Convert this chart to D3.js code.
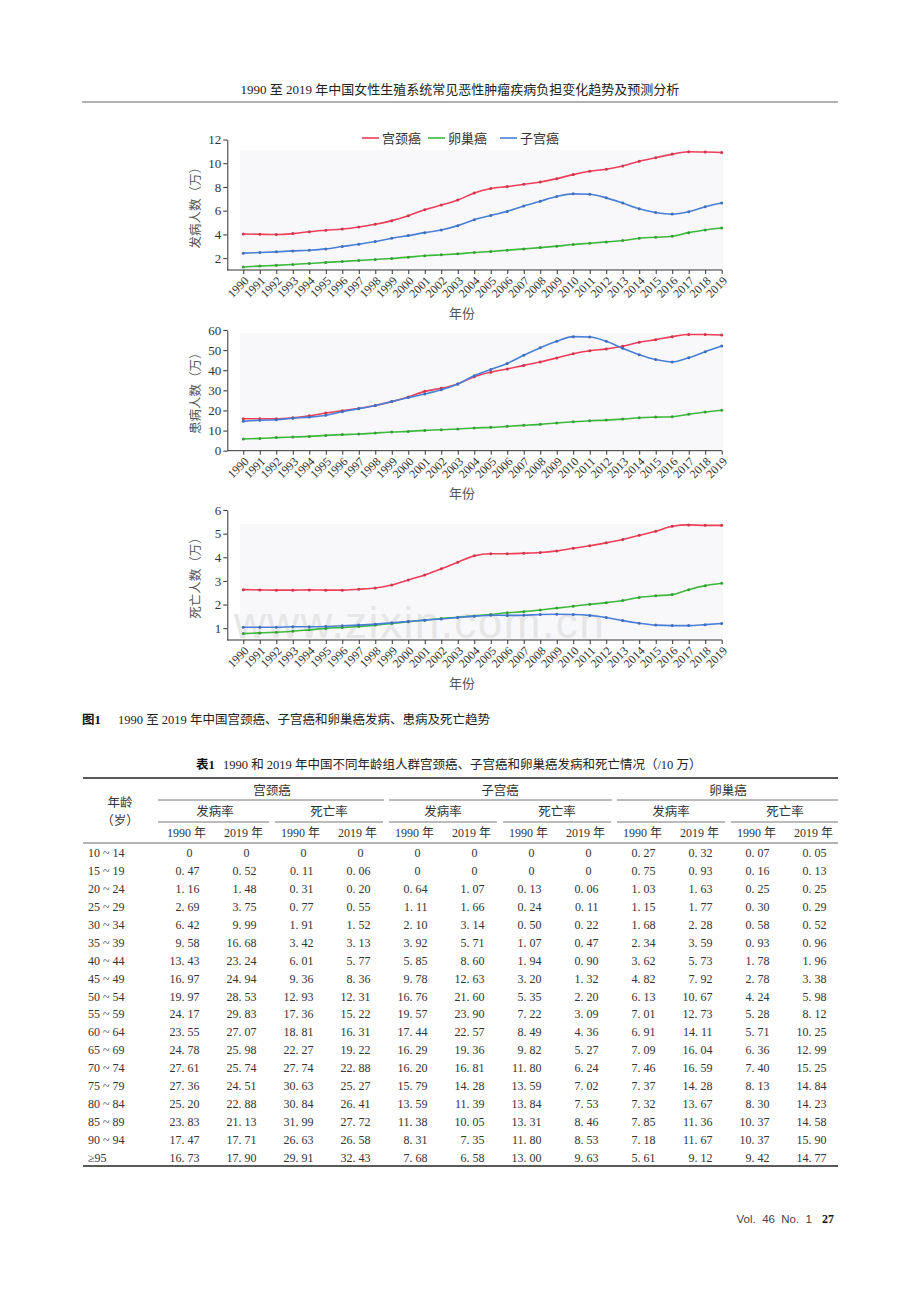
<!DOCTYPE html>
<html>
<head>
<meta charset="utf-8">
<script src="https://cdn.jsdelivr.net/npm/d3@7"></script>
<style>
body{margin:0;background:#fff;}
svg{display:block;}
text{font-family:"Liberation Serif","Noto Sans CJK SC",serif;fill:#333;}
</style>
</head>
<body>
<div id="page"></div>
<script>
// x categories (years)
var years = [1990,1991,1992,1993,1994,1995,1996,1997,1998,1999,2000,2001,2002,2003,2004,
             2005,2006,2007,2008,2009,2010,2011,2012,2013,2014,2015,2016,2017,2018,2019];
var seriesNames = ["宫颈癌","卵巢癌","子宫癌"];
var seriesColors = ["#ee3e58","#3db83d","#4a7fd8"];

// 发病人数 (万)
var incCervical = [4.04,4.01,3.99,4.07,4.23,4.35,4.46,4.63,4.85,5.16,5.58,6.08,6.47,6.89,7.50,7.87,8.03,8.23,8.42,8.70,9.04,9.32,9.49,9.77,10.16,10.46,10.77,10.97,10.94,10.91];
var incOvarian  = [1.25,1.33,1.39,1.47,1.55,1.64,1.72,1.80,1.89,1.97,2.08,2.20,2.28,2.36,2.47,2.56,2.67,2.78,2.89,3.01,3.15,3.26,3.37,3.48,3.68,3.76,3.84,4.15,4.37,4.54];
var incUterine  = [2.42,2.47,2.53,2.61,2.67,2.78,2.98,3.17,3.40,3.68,3.90,4.15,4.37,4.74,5.24,5.60,5.94,6.39,6.80,7.20,7.42,7.39,7.08,6.64,6.16,5.85,5.71,5.91,6.33,6.64];
// 患病人数 (万)
var prevCervical = [15.9,15.9,15.9,16.4,17.4,18.7,19.9,21.0,22.5,24.4,26.7,29.5,31.0,33.2,36.8,39.0,40.6,42.4,44.1,46.1,48.2,49.7,50.6,51.9,53.9,55.2,56.7,57.8,57.8,57.5];
var prevOvarian  = [5.8,6.1,6.5,6.8,7.1,7.6,8.0,8.3,8.8,9.3,9.6,10.1,10.4,10.8,11.3,11.6,12.1,12.6,13.1,13.8,14.4,14.9,15.2,15.7,16.4,16.7,16.9,18.1,19.2,20.1];
var prevUterine  = [14.6,15.1,15.4,16.1,16.7,17.6,19.4,20.9,22.5,24.4,26.4,28.2,30.3,33.2,37.3,40.4,43.4,47.4,51.2,54.4,56.7,56.5,54.4,50.9,47.7,45.3,44.1,46.2,49.2,52.0];
// 死亡人数 (万)
var deathCervical = [2.63,2.62,2.61,2.61,2.62,2.61,2.61,2.65,2.70,2.83,3.04,3.25,3.51,3.79,4.06,4.15,4.15,4.17,4.20,4.27,4.38,4.49,4.61,4.75,4.93,5.10,5.31,5.37,5.35,5.35];
var deathOvarian  = [0.77,0.80,0.83,0.87,0.93,0.99,1.03,1.07,1.13,1.20,1.27,1.34,1.41,1.46,1.52,1.58,1.65,1.70,1.77,1.85,1.93,2.01,2.08,2.17,2.30,2.37,2.42,2.63,2.80,2.90];
var deathUterine  = [1.04,1.04,1.04,1.06,1.06,1.07,1.10,1.13,1.17,1.23,1.28,1.34,1.39,1.45,1.51,1.55,1.54,1.55,1.58,1.59,1.58,1.54,1.45,1.32,1.21,1.13,1.11,1.11,1.15,1.20];

// y tick labels of the three panels
var incTicks = [2,4,6,8,10,12];
var prevTicks = [0,10,20,30,40,50,60];
var deathTicks = [1,2,3,4,5,6];

// table 1
var groups = ["宫颈癌","子宫癌","卵巢癌"];
var measures = ["发病率","死亡率"];
var yearLabels = ["1990 年","2019 年"];
var ageGroups = ["10 ~ 14","15 ~ 19","20 ~ 24","25 ~ 29","30 ~ 34","35 ~ 39","40 ~ 44","45 ~ 49","50 ~ 54",
                 "55 ~ 59","60 ~ 64","65 ~ 69","70 ~ 74","75 ~ 79","80 ~ 84","85 ~ 89","90 ~ 94","≥95"];
// [1990, 2019] per age group
var cervIncidence = [[0,0],[0.47,0.52],[1.16,1.48],[2.69,3.75],[6.42,9.99],[9.58,16.68],[13.43,23.24],[16.97,24.94],[19.97,28.53],
                     [24.17,29.83],[23.55,27.07],[24.78,25.98],[27.61,25.74],[27.36,24.51],[25.20,22.88],[23.83,21.13],[17.47,17.71],[16.73,17.90]];
var cervDeath = [[0,0],[0.11,0.06],[0.31,0.20],[0.77,0.55],[1.91,1.52],[3.42,3.13],[6.01,5.77],[9.36,8.36],[12.93,12.31],
                 [17.36,15.22],[18.81,16.31],[22.27,19.22],[27.74,22.88],[30.63,25.27],[30.84,26.41],[31.99,27.72],[26.63,26.58],[29.91,32.43]];
var uterIncidence = [[0,0],[0,0],[0.64,1.07],[1.11,1.66],[2.10,3.14],[3.92,5.71],[5.85,8.60],[9.78,12.63],[16.76,21.60],
                     [19.57,23.90],[17.44,22.57],[16.29,19.36],[16.20,16.81],[15.79,14.28],[13.59,11.39],[11.38,10.05],[8.31,7.35],[7.68,6.58]];
var uterDeath = [[0,0],[0,0],[0.13,0.06],[0.24,0.11],[0.50,0.22],[1.07,0.47],[1.94,0.90],[3.20,1.32],[5.35,2.20],
                 [7.22,3.09],[8.49,4.36],[9.82,5.27],[11.80,6.24],[13.59,7.02],[13.84,7.53],[13.31,8.46],[11.80,8.53],[13.00,9.63]];
var ovarIncidence = [[0.27,0.32],[0.75,0.93],[1.03,1.63],[1.15,1.77],[1.68,2.28],[2.34,3.59],[3.62,5.73],[4.82,7.92],[6.13,10.67],
                     [7.01,12.73],[6.91,14.11],[7.09,16.04],[7.46,16.59],[7.37,14.28],[7.32,13.67],[7.85,11.36],[7.18,11.67],[5.61,9.12]];
var ovarDeath = [[0.07,0.05],[0.16,0.13],[0.25,0.25],[0.30,0.29],[0.58,0.52],[0.93,0.96],[1.78,1.96],[2.78,3.38],[4.24,5.98],
                 [5.28,8.12],[5.71,10.25],[6.36,12.99],[7.40,15.25],[8.13,14.84],[8.30,14.23],[10.37,14.58],[10.37,15.90],[9.42,14.77]];

var W = 920, H = 1301;
var svg = d3.select("#page").append("svg").attr("width", W).attr("height", H);
svg.append("rect").attr("width", W).attr("height", H).attr("fill", "#fff");

// running head
svg.append("text").attr("x", 460).attr("y", 94).attr("text-anchor", "middle")
  .style("font-size", "13px").style("fill", "#222")
  .text("1990 至 2019 年中国女性生殖系统常见恶性肿瘤疾病负担变化趋势及预测分析");
svg.append("line").attr("x1", 82).attr("x2", 838).attr("y1", 102).attr("y2", 102)
  .attr("stroke", "#999").attr("stroke-width", 1.5);

var x = d3.scalePoint().domain(years).range([243.3, 721.7]);

var panels = [
  {top: 139.5, bottom: 270, domain: [1, 12], ticks: incTicks, bgTop: 11.1, title: "发病人数（万）", xlab: 313,
   series: [incCervical, incOvarian, incUterine]},
  {top: 330, bottom: 450.7, domain: [0, 60], ticks: prevTicks, bgTop: 58.3, title: "患病人数（万）", xlab: 493,
   series: [prevCervical, prevOvarian, prevUterine]},
  {top: 510, bottom: 640, domain: [0.5, 6], ticks: deathTicks, bgTop: 5.41, title: "死亡人数（万）", xlab: 683,
   series: [deathCervical, deathOvarian, deathUterine], watermark: true}
];

panels.forEach(function(p) {
  var y = d3.scaleLinear().domain(p.domain).range([p.bottom, p.top]);
  var g = svg.append("g");

  // light plot area
  g.append("rect").attr("x", 240).attr("y", y(p.bgTop))
    .attr("width", 723 - 240).attr("height", p.bottom - y(p.bgTop))
    .attr("fill", "#f8f8fa");

  if (p.watermark) {
    g.append("text").attr("x", 234).attr("y", 638)
      .style("font-family", "'Liberation Sans',sans-serif")
      .style("font-size", "44px").style("letter-spacing", "1.5px").style("fill", "#e6e6e6")
      .text("www.zixin.com.cn");
  }

  // y axis
  var ya = g.append("g").attr("transform", "translate(227.3,0)")
    .call(d3.axisLeft(y).tickValues(p.ticks).tickFormat(d3.format("d")).tickSize(4).tickSizeOuter(0).tickPadding(2));
  ya.select(".domain").attr("stroke", "#333");
  ya.selectAll(".tick line").attr("stroke", "#333");
  ya.selectAll("text").style("font-size", "13px").style("font-family", "'Liberation Serif',serif").attr("fill", "#333");

  // x axis
  var xa = g.append("g").attr("transform", "translate(0," + p.bottom + ")")
    .call(d3.axisBottom(x).tickSize(4).tickSizeOuter(0));
  xa.select(".domain").remove();
  xa.append("line").attr("x1", 227.3).attr("x2", 722).attr("stroke", "#333");
  xa.selectAll(".tick line").attr("stroke", "#333");
  xa.selectAll("text")
    .style("font-size", "12px").style("font-family", "'Liberation Serif',serif").attr("fill", "#333")
    .attr("text-anchor", "end").attr("x", -4).attr("y", 8).attr("dy", "0.35em")
    .attr("transform", "rotate(-45)");

  // axis titles
  g.append("text").attr("transform", "translate(200," + ((p.top + p.bottom) / 2) + ") rotate(-90)")
    .attr("text-anchor", "middle").style("font-size", "12.5px").style("fill", "#555").text(p.title);
  g.append("text").attr("x", 462).attr("y", p.xlab + 5).attr("text-anchor", "middle")
    .style("font-size", "13px").style("fill", "#555").text("年份");

  // lines
  var line = d3.line().x(function(d, i) { return x(years[i]); }).y(function(d) { return y(d); })
    .curve(d3.curveMonotoneX);
  p.series.forEach(function(s, k) {
    g.append("path").datum(s).attr("d", line).attr("fill", "none")
      .attr("stroke", seriesColors[k]).attr("stroke-width", 1.6);
    g.selectAll(null).data(s).enter().append("circle")
      .attr("cx", function(d, i) { return x(years[i]); })
      .attr("cy", function(d) { return y(d); })
      .attr("r", 1.5).attr("fill", d3.color(seriesColors[k]).darker(0.4));
  });
});

// legend (top panel)
var legX = [362, 428, 500];
seriesNames.forEach(function(n, k) {
  svg.append("line").attr("x1", legX[k]).attr("x2", legX[k] + 17).attr("y1", 138).attr("y2", 138)
    .attr("stroke", seriesColors[k]).attr("stroke-width", 1.6);
  svg.append("text").attr("x", legX[k] + 20).attr("y", 143).style("font-size", "13px").style("fill", "#333").text(n);
});

// figure caption
svg.append("text").attr("x", 82).attr("y", 724).style("font-size", "12.5px").style("font-weight", "bold").style("fill", "#111").text("图1");
svg.append("text").attr("x", 118).attr("y", 724).style("font-size", "12.5px").style("fill", "#222")
  .text("1990 至 2019 年中国宫颈癌、子宫癌和卵巢癌发病、患病及死亡趋势");

// table title
svg.append("text").attr("x", 196).attr("y", 769).style("font-size", "12.5px").style("font-weight", "bold").style("fill", "#111").text("表1");
svg.append("text").attr("x", 223).attr("y", 769).style("font-size", "12.5px").style("fill", "#222")
  .text("1990 和 2019 年中国不同年龄组人群宫颈癌、子宫癌和卵巢癌发病和死亡情况（/10 万）");

// table
var columns = [cervIncidence, cervDeath, uterIncidence, uterDeath, ovarIncidence, ovarDeath];
var col = d3.scaleBand().domain(d3.range(12)).range([158, 842]);
var step = col.step();
var rowY = d3.scalePoint().domain(ageGroups).range([853, 1158]);
var fmt = function(v) { return v === 0 ? "0" : d3.format(".2f")(v).replace(".", ". "); };
var tbl = svg.append("g").style("font-size", "12px");

tbl.append("line").attr("x1", 83).attr("x2", 838).attr("y1", 778).attr("y2", 778).attr("stroke", "#222").attr("stroke-width", 1.6);
tbl.append("line").attr("x1", 83).attr("x2", 838).attr("y1", 843).attr("y2", 843).attr("stroke", "#444").attr("stroke-width", 0.8);
tbl.append("line").attr("x1", 83).attr("x2", 838).attr("y1", 1166).attr("y2", 1166).attr("stroke", "#222").attr("stroke-width", 1.6);

tbl.append("text").attr("x", 120).attr("y", 807).attr("text-anchor", "middle").style("font-size", "12.5px").text("年龄");
tbl.append("text").attr("x", 120).attr("y", 825).attr("text-anchor", "middle").style("font-size", "12.5px").text("（岁）");

groups.forEach(function(gn, gi) {
  var s = col(gi * 4), e = s + step * 4;
  tbl.append("text").attr("x", (s + e) / 2).attr("y", 795).attr("text-anchor", "middle").style("font-size", "12.5px").text(gn);
  tbl.append("line").attr("x1", s + (gi ? 3 : 0)).attr("x2", e - (gi === 2 ? 4 : 2)).attr("y1", 800).attr("y2", 800)
    .attr("stroke", "#555").attr("stroke-width", 0.8);
  measures.forEach(function(mn, mi) {
    var ms = col(gi * 4 + mi * 2), me = ms + step * 2;
    tbl.append("text").attr("x", (ms + me) / 2).attr("y", 816).attr("text-anchor", "middle").style("font-size", "12.5px").text(mn);
    tbl.append("line").attr("x1", ms + (gi + mi ? 3 : 0)).attr("x2", me - (gi === 2 && mi === 1 ? 4 : 3)).attr("y1", 822).attr("y2", 822)
      .attr("stroke", "#555").attr("stroke-width", 0.8);
    yearLabels.forEach(function(yl, yi) {
      var c = col(gi * 4 + mi * 2 + yi) + step / 2;
      tbl.append("text").attr("x", c).attr("y", 837).attr("text-anchor", "middle").style("font-size", "12px").text(yl);
    });
  });
});

ageGroups.forEach(function(a, r) {
  var yy = rowY(a) + 4;
  tbl.append("text").attr("x", 88).attr("y", yy).text(a);
  columns.forEach(function(arr, ci) {
    arr[r].forEach(function(v, yi) {
      var c = col(ci * 2 + yi) + step / 2;
      tbl.append("text").attr("x", v === 0 ? c + 3 : c + 13).attr("y", yy)
        .attr("text-anchor", v === 0 ? "middle" : "end").text(fmt(v));
    });
  });
});

// folio
svg.append("text").attr("x", 812).attr("y", 1223).attr("text-anchor", "end")
  .style("font-family", "'Liberation Sans',sans-serif").style("font-size", "11.5px").style("fill", "#444")
  .attr("xml:space", "preserve").text("Vol.  46  No.  1");
svg.append("text").attr("x", 834).attr("y", 1223).attr("text-anchor", "end")
  .style("font-size", "12px").style("font-weight", "bold").style("fill", "#111").text("27");
</script>
</body>
</html>
